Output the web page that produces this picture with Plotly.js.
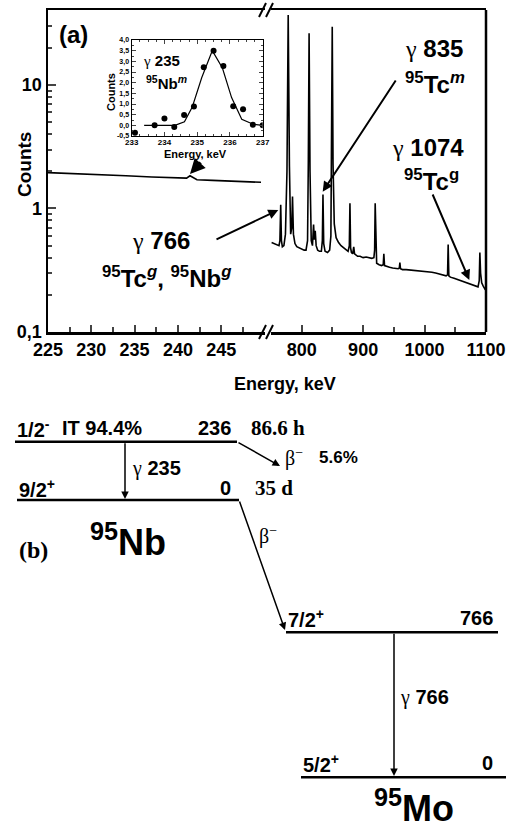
<!DOCTYPE html>
<html><head><meta charset="utf-8">
<script src="https://cdn.plot.ly/plotly-3.0.1.min.js"></script>
<style>body{margin:0;background:#fff}#c{width:513px;height:830px}</style>
</head><body><div id="c"></div><script>
const W=513,H=830;
const px=x=>x/W, py=y=>1-y/H;

// ---- Spectrum, low-energy segment (225-250 keV)
const lowE=[225,228,231,234,237,239.5,241.0,241.4,242.2,244,246,248,249.6];
const lowC=[1.95,1.92,1.88,1.84,1.80,1.77,1.76,1.84,1.71,1.69,1.67,1.65,1.63];
const lowTicks=[225,230,235,240,245];

// ---- Spectrum, high-energy segment (750-1100 keV)
const highE=[751,755,759,763,764.5,765.8,767,768.5,771,773.5,776,778,780,782,783.8,785,786.5,789,792,796,800,804,807,809.5,810.8,812,813.5,815.5,817.5,819.3,820.5,822,823.5,826,829,832,833.6,834.6,835.8,838,842,845.5,847.5,848.6,849.7,851,853,856,860,864,868,872,875.5,877.5,878.5,879.6,881,883,884.7,886,888,891,895,900,905,910,914,917.5,918.7,919.6,920.6,922,926,930,932.7,933.7,934.8,938,943,948,953,957,958.9,959.8,960.8,964,970,976,982,988,994,1000,1006,1012,1018,1024,1030,1035,1037.4,1038.4,1039.5,1042,1048,1054,1060,1066,1072,1078,1083,1087,1089,1090,1091.2,1093,1095.5,1097,1099];
const highC=[0.53,0.52,0.51,0.50,0.55,1.07,0.55,0.49,0.50,0.62,2.0,36.9,2.2,0.62,0.70,1.25,0.62,0.52,0.49,0.48,0.47,0.46,0.46,0.55,2.5,26.2,2.0,0.55,0.50,0.74,0.56,0.66,0.50,0.46,0.45,0.45,0.55,1.30,0.52,0.45,0.44,0.46,0.60,2.5,29.6,2.3,0.75,0.58,0.53,0.50,0.48,0.46,0.45,0.50,1.10,0.48,0.44,0.43,0.49,0.43,0.42,0.41,0.41,0.40,0.405,0.40,0.395,0.40,0.46,1.10,0.45,0.36,0.35,0.345,0.35,0.43,0.345,0.34,0.335,0.33,0.326,0.325,0.33,0.365,0.325,0.32,0.32,0.318,0.316,0.315,0.313,0.312,0.31,0.305,0.30,0.295,0.29,0.285,0.29,0.51,0.285,0.278,0.272,0.265,0.26,0.255,0.248,0.242,0.236,0.232,0.26,0.44,0.30,0.25,0.235,0.225,0.22];
const highTicks=[800,900,1000,1100];

const yTickVals=[0.1,1,10];
const yTickText=['0,1','1','10'];
const yMinor=[0.2,0.3,0.4,0.5,0.6,0.7,0.8,0.9,2,3,4,5,6,7,8,9,20,30];

// ---- Inset: gamma 235 keV peak
const insE=[233.1,233.7,234.0,234.3,234.6,234.9,235.2,235.5,235.8,236.1,236.4,236.7,237.0];
const insC=[-0.35,0.0,0.32,-0.08,0.48,0.88,2.72,3.5,2.78,0.9,0.75,0.03,0.0];
const fitE=[233.38,234.32,234.61,234.85,235.14,235.46,235.77,236.05,236.36,236.71,237.0];
const fitC=[0.0,0.0,0.17,0.86,2.24,3.5,2.69,1.30,0.28,0.05,0.0];
const insXTicks=[233,234,235,236,237];
const insYTicks=[-0.5,0,0.5,1,1.5,2,2.5,3,3.5,4];
const insYText=['-0,5','0,0','0,5','1,0','1,5','2,0','2,5','3,0','3,5','4,0'];

// ---- Decay scheme (b)
const nbLevels=['236','0'];
const nbSpins=['1/2<sup>-</sup>','9/2<sup>+</sup>'];
const nbHalfLives=['86.6 h','35 d'];
const moLevels=['766','0'];
const moSpins=['7/2<sup>+</sup>','5/2<sup>+</sup>'];
const branches=['IT 94.4%','5.6%'];
const gammas=['235','766'];

const G='<span style="font-family:Liberation Serif;font-weight:normal">γ</span>';
const B='<span style="font-family:Liberation Serif;font-weight:normal">β<sup>−</sup></span>';
const SERIF='Liberation Serif, Times New Roman, serif';

const traces=[
 {x:lowE,y:lowC,xaxis:'x',yaxis:'y',mode:'lines',line:{color:'#000',width:1.6},hoverinfo:'skip'},
 {x:highE,y:highC,xaxis:'x2',yaxis:'y',mode:'lines',line:{color:'#000',width:1.6},hoverinfo:'skip'},
 {x:fitE,y:fitC,xaxis:'x3',yaxis:'y3',mode:'lines',line:{color:'#000',width:1.2},hoverinfo:'skip'},
 {x:insE,y:insC,xaxis:'x3',yaxis:'y3',mode:'markers',marker:{color:'#000',size:6},hoverinfo:'skip'}
];

const tf={size:18,weight:'bold',color:'#000'};
const baseX={ticks:'inside',ticklen:7,tickwidth:2,showline:true,linewidth:2.5,linecolor:'#000',mirror:true,showgrid:false,zeroline:false,tickfont:tf,anchor:'y'};
const layout={
 width:W,height:H,margin:{l:0,r:0,t:0,b:0},paper_bgcolor:'#fff',plot_bgcolor:'rgba(0,0,0,0)',
 font:{family:'Liberation Sans, Arial, sans-serif',color:'#000'},showlegend:false,
 xaxis:Object.assign({},baseX,{domain:[px(48),px(264.5)],range:[225,250],tickmode:'array',tickvals:lowTicks,ticktext:lowTicks.map(String),
   minor:{tickvals:[227.5,232.5,237.5,242.5,247.5],ticks:'inside',ticklen:5,tickwidth:2}}),
 xaxis2:Object.assign({},baseX,{domain:[px(271),px(486)],range:[750,1100],tickmode:'array',tickvals:highTicks,ticktext:highTicks.map(String),
   minor:{tickvals:[850,950,1050],ticks:'inside',ticklen:5,tickwidth:2}}),
 yaxis:{domain:[py(332),py(10)],type:'log',range:[-1,1.607],anchor:'x',tickmode:'array',tickvals:yTickVals,ticktext:yTickText,
   ticks:'inside',ticklen:8,tickwidth:2,showline:true,linewidth:2.5,linecolor:'#000',showgrid:false,zeroline:false,tickfont:tf,
   minor:{tickvals:yMinor,ticks:'inside',ticklen:4,tickwidth:2}},
 xaxis3:{domain:[px(131.7),px(262.7)],range:[233,237],anchor:'y3',tickmode:'array',tickvals:insXTicks,ticktext:insXTicks.map(String),
   ticks:'inside',ticklen:4,tickwidth:1,showline:true,linewidth:1.2,linecolor:'#000',mirror:'allticks',showgrid:false,zeroline:false,
   ticklabelstandoff:-2,tickfont:{size:8,weight:'bold'},minor:{dtick:0.25,ticks:'inside',ticklen:2,tickwidth:1}},
 yaxis3:{domain:[py(136),py(40)],range:[-0.5,4.0],anchor:'x3',tickmode:'array',tickvals:insYTicks,ticktext:insYText,
   ticks:'inside',ticklen:4,tickwidth:1,showline:true,linewidth:1.2,linecolor:'#000',mirror:'allticks',showgrid:false,zeroline:false,
   tickfont:{size:7,weight:'bold'},minor:{dtick:0.25,ticks:'inside',ticklen:2,tickwidth:1}},
 shapes:[],annotations:[]
};

function L(x0,y0,x1,y1,w){layout.shapes.push({type:'line',xref:'paper',yref:'paper',x0:px(x0),y0:py(y0),x1:px(x1),y1:py(y1),line:{color:'#000',width:w}});}
function T(text,x,y,size,o){layout.annotations.push(Object.assign({xref:'paper',yref:'paper',x:px(x),y:py(y),text:text,showarrow:false,xanchor:'left',yanchor:'middle',font:{size:size,color:'#000'}},o||{}));}
function A(hx,hy,tx,ty,w,s){layout.annotations.push({xref:'paper',yref:'paper',x:px(hx),y:py(hy),ax:tx-hx,ay:ty-hy,axref:'pixel',ayref:'pixel',text:'',showarrow:true,arrowhead:2,arrowsize:s||1,arrowwidth:w||1.5,arrowcolor:'#000',standoff:0,startstandoff:0});}

// frame right edge and axis breaks
L(486,332,486,10,2.5);
L(259,17,266,3,2);L(266,17,273,3,2);
L(259,339,266,325,2);L(266,339,273,325,2);

// axis titles
T('<b>Counts</b>',24,165,19,{xanchor:'center',textangle:-90});
T('<b>Energy, keV</b>',285,384,18,{xanchor:'center'});
T('<b>(a)</b>',57,35,24);

// inset labels
T('<b>Counts</b>',111,92,11,{xanchor:'center',textangle:-90});
T('<b>Energy, keV</b>',195,154,11,{xanchor:'center'});
T(G+' <b>'+gammas[0]+'</b>',141,60,15);
T('<b><sup>95</sup>Nb<sup><i>m</i></sup></b>',144,83,15);
A(190,174,202,161,3,1);

// peak labels
T(G+' <b>835</b>',403,48,24);
T('<b><sup>95</sup>Tc<sup><i>m</i></sup></b>',403,83,24);
A(322.7,191.7,396.7,79,2);
T(G+' <b>1074</b>',390,147,24);
T('<b><sup>95</sup>Tc<sup>g</sup></b>',402,180,24);
A(469.3,280,432,193,2);
T(G+' <b>766</b>',130,240,24);
T('<b><sup>95</sup>Tc<sup><i>g</i></sup>, <sup>95</sup>Nb<sup><i>g</i></sup></b>',100,277,24);
A(278.3,210,215,240,2);

// decay scheme levels
L(15,441.7,237,441.7,2.5);
L(17,500,239,500,2.5);
L(286,632.3,498,632.3,2.5);
L(301,777.3,506,777.3,2.5);
// transitions
A(280,466,237,441.7,1.5);
A(125,499,125,441.7,1.5);
A(285,630,239,500,1.5);
A(394,776,394,632.3,1.5);

T('<b>'+nbSpins[0]+'</b>',15,428,20);
T('<b>'+branches[0]+'</b>',60,428,20);
T('<b>'+nbLevels[0]+'</b>',233,428,20,{xanchor:'right'});
T('<b>'+nbHalfLives[0]+'</b>',249,428,21,{font:{size:21,family:SERIF}});
T(G+' <b>'+gammas[0]+'</b>',130,468,20);
T('<b>'+nbSpins[1]+'</b>',17,488,20);
T('<b>'+nbLevels[1]+'</b>',233,488,20,{xanchor:'right'});
T('<b>'+nbHalfLives[1]+'</b>',253,488,21,{font:{size:21,family:SERIF}});
T(B,283,457,20);
T('<b>'+branches[1]+'</b>',317,457,17);
T(B,257,535,20);
T('<b><sup>95</sup>Nb</b>',88,540,36);
T('<b>(b)</b>',17,550,24,{font:{size:24,family:SERIF}});
T('<b>'+moSpins[0]+'</b>',286,618,20);
T('<b>'+moLevels[0]+'</b>',495,618,20,{xanchor:'right'});
T(G+' <b>'+gammas[1]+'</b>',398,697,20);
T('<b>'+moSpins[1]+'</b>',301,763,20);
T('<b>'+moLevels[1]+'</b>',495,763,20,{xanchor:'right'});
T('<b><sup>95</sup>Mo</b>',372,806,36);

Plotly.newPlot('c',traces,layout,{staticPlot:true,displayModeBar:false});
</script></body></html>
